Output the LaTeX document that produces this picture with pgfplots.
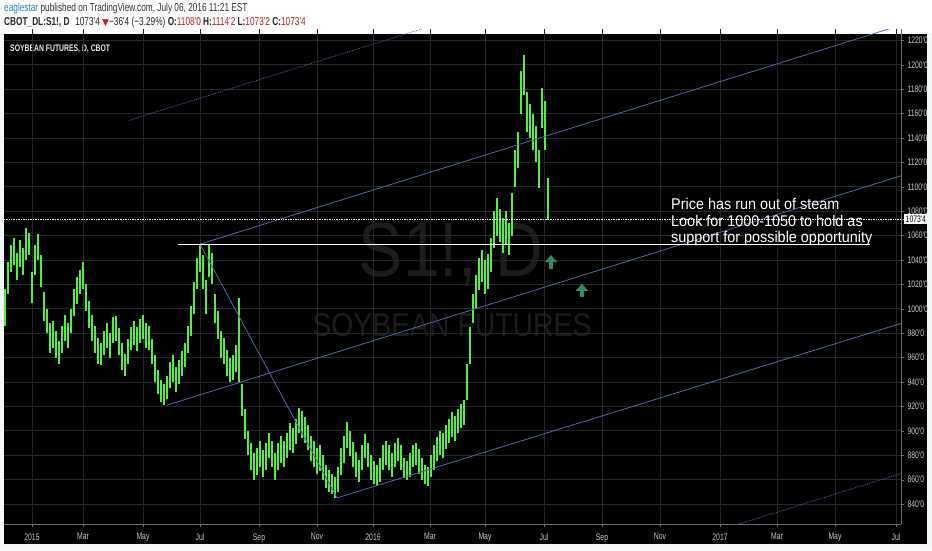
\documentclass[border=0pt]{standalone}
\usepackage{pgfplots}
\pgfplotsset{compat=1.18}
\usepackage{pgfplotstable}
\usepackage{fontspec}
\setmainfont{Liberation Sans}
\newfontfamily\cond[FakeStretch=0.72]{Liberation Sans}
\newfontfamily\note[FakeStretch=0.93]{Liberation Sans}
\newfontfamily\wm[FakeStretch=0.86]{Liberation Sans}
\newfontfamily\sym{DejaVu Sans}
\usetikzlibrary{arrows.meta}

\definecolor{barGreen}{RGB}{80,240,60}
\definecolor{chanBlue}{RGB}{75,105,175}
\definecolor{gridGray}{RGB}{38,38,38}
\definecolor{axisGray}{RGB}{110,110,110}
\definecolor{labelGray}{RGB}{200,200,200}
\definecolor{wmGray}{RGB}{28,28,28}
\definecolor{arrowTeal}{RGB}{40,140,110}
\definecolor{tvBlue}{RGB}{40,130,190}
\definecolor{tvRed}{RGB}{200,30,30}
\definecolor{pageBg}{RGB}{244,247,248}

% daily bars, x in chart position, low / high in cents
\pgfplotstableread{
x lo hi
5 986 1016
8 1012 1038
11 1030 1052
14 1036 1058
17 1024 1046
20 1034 1056
23 1028 1050
26 1040 1066
29 1044 1062
32 1005 1030
35 1028 1052
38 1040 1061
41 1018 1044
44 990 1014
47 980 1000
50 964 988
53 968 990
56 960 982
59 955 974
62 964 986
65 974 995
68 968 988
71 980 1000
74 994 1016
77 1004 1026
80 1012 1032
83 1016 1038
86 998 1020
89 984 1006
92 974 995
95 964 986
98 955 976
101 954 972
104 962 982
107 968 988
110 960 980
113 972 993
116 974 994
119 962 984
122 950 972
125 945 963
128 955 975
131 966 985
134 970 990
137 965 985
140 972 992
143 975 995
146 968 988
149 966 986
152 955 975
155 940 962
158 930 950
161 924 942
164 921 938
167 926 945
170 935 956
173 940 962
176 932 952
179 938 958
182 945 965
185 952 972
188 964 986
191 978 1002
194 996 1022
197 1016 1042
200 1030 1053
203 1016 1044
206 996 1024
209 1026 1053
212 1020 1046
215 988 1012
218 975 998
221 960 982
224 955 976
227 945 966
230 940 960
233 942 962
236 948 970
239 940 1009
242 912 938
245 893 918
248 880 900
251 868 890
254 860 882
257 864 886
260 870 892
263 862 884
266 868 890
269 878 898
272 870 892
275 860 882
278 868 890
281 874 896
284 870 892
287 878 898
290 884 906
293 882 902
296 889 910
299 898 919
302 894 916
305 890 911
308 884 905
311 875 896
314 870 892
317 865 886
320 867 888
323 860 880
326 853 872
329 850 868
332 848 865
335 845 862
338 850 870
341 864 886
344 874 896
347 886 907
350 879 900
353 870 891
356 862 883
359 858 876
362 868 888
365 878 897
368 870 890
371 860 880
374 856 875
377 855 872
380 858 878
383 868 888
386 872 892
389 868 888
392 862 882
395 870 890
398 875 894
401 868 888
404 861 878
407 860 875
410 862 882
413 870 888
416 872 890
419 865 885
422 860 878
425 856 872
428 855 870
431 862 880
434 868 888
437 875 895
440 880 900
443 878 898
446 885 905
449 890 910
452 895 915
455 892 912
458 898 918
461 902 922
464 905 925
467 925 955
470 955 985
473 988 1012
476 1000 1028
479 1015 1042
482 1022 1048
485 1012 1040
488 1016 1045
491 1030 1058
494 1050 1080
497 1060 1091
500 1055 1082
503 1046 1074
506 1052 1080
509 1044 1070
512 1060 1095
515 1100 1130
518 1115 1145
521 1160 1195
524 1175 1208
527 1145 1178
530 1140 1168
533 1130 1160
536 1120 1150
539 1099 1130
542 1148 1181
545 1130 1170
548 1073 1107
}\bars

\begin{document}
\begin{tikzpicture}[x=1pt,y=1pt]
\fill[pageBg] (0,0) rectangle (932,550);
\fill[white] (0,517) rectangle (932,550);
\fill[black] (4,6) rectangle (927,516);
% watermark
\node[text=wmGray, font=\wm\fontsize{77}{77}\selectfont] at (451,295) {S1!, D};
\node[text=wmGray, font=\wm\fontsize{33}{33}\selectfont] at (452,225) {SOYBEAN FUTURES};
% header
\node[anchor=west, inner sep=0, text=black!80, font=\cond\fontsize{11.5}{13}\selectfont] at (4,541)
  {\textcolor{tvBlue}{eaglestar} published on TradingView.com, July 06, 2016 11:21 EST};
\node[anchor=west, inner sep=0, text=black!85, font=\cond\fontsize{11.5}{13}\selectfont] at (4,527)
  {\textbf{CBOT\_DL:S1!, D}\enspace 1073'4 \textcolor{tvRed}{{\sym\fontsize{9}{9}\selectfont ▼}}−36'4 (−3.29\%)
   \textbf{O:}\textcolor{tvRed}{1108'0} \textbf{H:}\textcolor{tvRed}{1114'2}
   \textbf{L:}\textcolor{tvRed}{1073'2} \textbf{C:}\textcolor{tvRed}{1073'4}};
\node[anchor=west, inner sep=0, text=white!92!black, font=\cond\bfseries\fontsize{9.5}{10}\selectfont] at (10,501)
  {SOYBEAN FUTURES, D, CBOT};

\begin{axis}[
    at={(4,21)}, anchor=south west,
    scale only axis,
    width=897pt, height=495pt,
    xmin=4, xmax=901,
    ymin=823.3, ymax=1229,
    axis x line*=bottom,
    axis y line*=right,
    axis line style={axisGray, -},
    tick style={axisGray},
    tick align=outside,
    major tick length=3pt,
    grid=major,
    major grid style={gridGray, line width=0.7pt},
    xtick={32,83,143,200,259,317,373,430,485,544,602,660,720,777,835,896},
    xticklabels={2015,Mar,May,Jul,Sep,Nov,2016,Mar,May,Jul,Sep,Nov,2017,Mar,May,Jul},
    xticklabel style={font=\cond\fontsize{9.5}{10}\selectfont, text=labelGray, yshift=-2.5pt},
    ytick={840,860,...,1220},
    yticklabels={840'0,860'0,880'0,900'0,920'0,940'0,960'0,980'0,1000'0,1020'0,1040'0,1060'0,1080'0,1100'0,1120'0,1140'0,1160'0,1180'0,1200'0,1220'0},
    yticklabel style={font=\cond\fontsize{9.5}{10}\selectfont, text=labelGray},
    extra y ticks={1073.5},
    extra y tick labels={1073'4},
    extra y tick style={grid=none, yticklabel style={fill=white, text=black, inner sep=1.5pt}},
  ]
  % price bars
  \addplot[draw=none, mark=none, forget plot,
    error bars/.cd, y dir=plus, y explicit,
    error mark=none,
    error bar style={barGreen, line width=2.7pt}]
    table[x=x, y=lo, y error expr=\thisrow{hi}-\thisrow{lo}] {\bars};
  % channel lines
  \addplot[chanBlue, line width=0.8pt] coordinates {(200,1053) (901,1232.5)};
  \addplot[chanBlue, line width=0.8pt] coordinates {(167,921) (901,1109)};
  \addplot[chanBlue, line width=0.8pt] coordinates {(337,845) (901,988)};
  \addplot[chanBlue, line width=0.8pt] coordinates {(200,1053) (337,845)};
  \addplot[chanBlue, line width=0.8pt, densely dotted] coordinates {(129,1154.4) (432,1232)};
  \addplot[chanBlue, line width=0.8pt, densely dotted] coordinates {(728,820.7) (901,865)};
  % levels
  \addplot[white, line width=0.9pt] coordinates {(178,1052.5) (870,1052.5)};
  \addplot[white, line width=0.7pt, densely dotted] coordinates {(4,1073.5) (901,1073.5)};
  % arrows
  \addplot[arrowTeal, line width=4.5pt, -{Triangle[width=12pt,length=7pt]},
    quiver={u=0, v=11}] coordinates {(551,1033) (582,1009.5)};
  \node[anchor=north west, inner sep=0, align=left, text=white,
    font=\note\fontsize{15.5}{16.3}\selectfont] at (axis cs:671,1090.5)
    {Price has run out of steam\\Look for 1000-1050 to hold as\\support for possible opportunity};
\end{axis}
\pgfresetboundingbox
\path (0,0) rectangle (932,550);
\end{tikzpicture}
\end{document}
